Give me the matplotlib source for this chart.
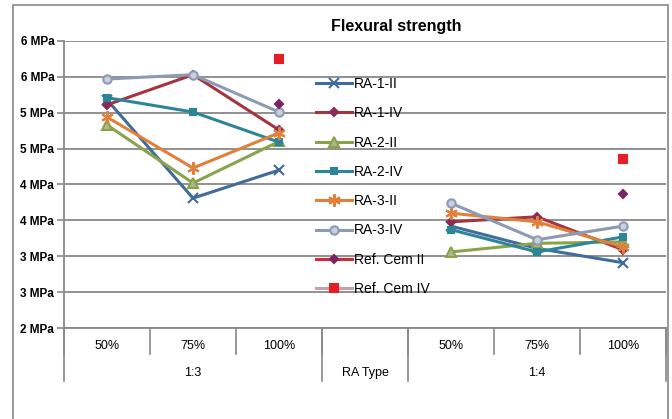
import numpy as np
import matplotlib
matplotlib.use('Agg')
import matplotlib.pyplot as plt
from matplotlib.patches import Rectangle

plt.rcParams['font.family'] = ['Liberation Sans', 'DejaVu Sans']

categories = ['50%', '75%', '100%', '', '50%', '75%', '100%']
groups = ['1:3', 'RA Type', '1:4']
group_spans = [(0, 2), (3, 3), (4, 6)]
y_ticks = [2.0, 2.5, 3.0, 3.5, 4.0, 4.5, 5.0, 5.5, 6.0]
y_ticklabels = ['2 MPa', '3 MPa', '3 MPa', '4 MPa', '4 MPa', '5 MPa', '5 MPa', '6 MPa', '6 MPa']

nan = np.nan
ra_1_ii = [5.18, 3.81, 4.20, nan, 3.42, 3.11, 2.91]
ra_1_iv = [5.11, 5.53, 4.76, nan, 3.48, 3.55, 3.09]
ra_2_ii = [4.83, 4.02, 4.60, nan, 3.06, 3.18, 3.20]
ra_2_iv = [5.21, 5.01, 4.59, nan, 3.37, 3.06, 3.27]
ra_3_ii = [4.94, 4.23, 4.72, nan, 3.60, 3.48, 3.13]
ra_3_iv = [5.47, 5.53, 5.01, nan, 3.74, 3.23, 3.42]
ref_cem_ii = [nan, nan, 5.12, nan, nan, nan, 3.87]
ref_cem_iv = [nan, nan, 5.75, nan, nan, nan, 4.36]

# name, values, line colour, marker, marker face, marker edge, marker size
series = [
    ('RA-1-II', ra_1_ii, '#3F6C9A', 'x', '#3F6C9A', '#3F6C9A', 7),
    ('RA-1-IV', ra_1_iv, '#A4343F', 'D', '#8A2C5A', '#8A2C5A', 4.5),
    ('RA-2-II', ra_2_ii, '#8AA34A', '^', '#A9B98A', '#8AA34A', 7),
    ('RA-2-IV', ra_2_iv, '#2D8698', 's', '#2D8698', '#2D8698', 5),
    ('RA-3-II', ra_3_ii, '#E0803A', (6, 2, 0), '#E0803A', '#E0803A', 9),
    ('RA-3-IV', ra_3_iv, '#8C9AB3', 'o', '#C8D0DE', '#8C9AB3', 6),
    ('Ref. Cem II', ref_cem_ii, '#D42A3A', 'D', '#7A2560', '#7A2560', 4.5),
    ('Ref. Cem IV', ref_cem_iv, '#C8A0A8', 's', '#E31E24', '#E31E24', 5.5),
]

W, H = 672, 419
fig = plt.figure(figsize=(W / 100, H / 100), dpi=100)
ax = fig.add_axes([64 / W, (H - 328) / H, (666 - 64) / W, (328 - 41) / H])

x = np.arange(len(categories))
for name, vals, col, mk, mfc, mec, ms in series:
    ax.plot(x, vals, color=col, lw=2.2, marker=mk, markersize=ms,
            markerfacecolor=mfc, markeredgecolor=mec,
            markeredgewidth=1.5, label=name, clip_on=False, zorder=3)

ax.set_xlim(-0.5, len(categories) - 0.5)
ax.set_ylim(2, 6)
ax.set_yticks(y_ticks)
ax.set_yticklabels(y_ticklabels, fontsize=8.5, fontweight='bold')
ax.yaxis.grid(True, color='#888888', lw=1.3)
ax.set_axisbelow(True)
ax.tick_params(axis='y', length=5, width=1.2, color='#888888', pad=2)
ax.set_xticks([])
for s in ['top', 'right']:
    ax.spines[s].set_visible(False)
ax.spines['left'].set_color('#888888')
ax.spines['left'].set_linewidth(1.3)
ax.spines['bottom'].set_color('#888888')
ax.spines['bottom'].set_linewidth(1.3)

# two-tier category axis
trans = ax.get_xaxis_transform()
ax_h = 328 - 41
t1 = -(354 - 328) / ax_h
t2 = -(381 - 328) / ax_h
for b in np.arange(-0.5, len(categories)):
    ax.plot([b, b], [0, t1], transform=trans, color='#888888', lw=1.2, clip_on=False)
for b in [-0.5, 2.5, 3.5, 6.5]:
    ax.plot([b, b], [0, t2], transform=trans, color='#888888', lw=1.2, clip_on=False)
for i, c in enumerate(categories):
    ax.text(i, -(346 - 328) / ax_h, c, transform=trans, ha='center', va='center', fontsize=9)
for g, (a, b) in zip(groups, group_spans):
    ax.text((a + b) / 2, -(373 - 328) / ax_h, g, transform=trans, ha='center', va='center', fontsize=9)

fig.text(396 / W, (H - 26) / H, 'Flexural strength', ha='center', va='center',
         fontsize=11.5, fontweight='bold')

leg = ax.legend(loc='upper left', bbox_to_anchor=(316 / W, (H - 77) / H),
                bbox_transform=fig.transFigure, frameon=False, fontsize=10,
                handlelength=2.6, handletextpad=0.1, labelspacing=1.1,
                borderpad=0, borderaxespad=0)

fig.patches.append(Rectangle((13 / W, -0.05), (668 - 13) / W, 1.05 - 5 / H,
                             transform=fig.transFigure, fill=False,
                             edgecolor='#888888', lw=1.2))

fig.savefig('out.png', dpi=100)
